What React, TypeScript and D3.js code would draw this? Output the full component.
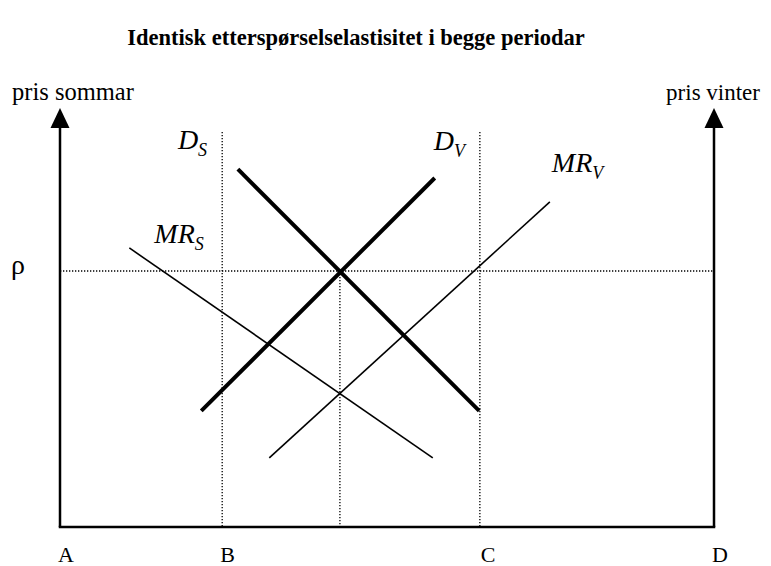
import React from "react";
import * as d3 from "d3";

// ---- data (quantity 0..100 on x, price 0..100 on y) ----
const title = "Identisk etterspørselselastisitet i begge periodar";
const leftAxisLabel = "pris sommar";
const rightAxisLabel = "pris vinter";
const priceLabel = "ρ";
const quantityTicks = ["A", "B", "C", "D"];
const quantityTickValues = [0, 24.8, 64.2, 100];
const midQuantity = 42.8;
const rho = 61.1;
const guideTop = 94.3;

const curveNames = ["DS", "DV", "MRS", "MRV"];
const curveMain = ["D", "D", "MR", "MR"];
const curveSub = ["S", "V", "S", "V"];
const curveThick = [true, true, false, false];
const curveX0 = [27.2, 21.6, 10.6, 32.0];
const curveY0 = [85.4, 27.7, 66.6, 16.5];
const curveX1 = [64.1, 57.3, 57.0, 74.9];
const curveY1 = [27.7, 83.3, 16.5, 77.6];

const W = 771;
const H = 566;
const FONT = "'Liberation Serif', 'Times New Roman', Times, serif";

export default function App() {
  const x = d3.scaleLinear().domain([0, 100]).range([60, 714]);
  const y = d3.scaleLinear().domain([0, 100]).range([527, 108]);
  const line = d3
    .line<[number, number]>()
    .x((d) => x(d[0]))
    .y((d) => y(d[1]));

  const x0 = x(0);
  const x1 = x(100);
  const yb = y(0);
  const yt = y(100);
  const arrowH = 20;
  const arrowW = 9.5;
  const arrow = (cx: number) =>
    `M${cx},${yt} L${cx - arrowW},${yt + arrowH} L${cx + arrowW},${yt + arrowH} Z`;

  const dotted = { stroke: "#000", strokeWidth: 1.3, strokeDasharray: "1.3,1.7" };

  // label offsets relative to curve anchors
  const labelAnchor = [
    { p: 0, dx: -60, dy: -20 },
    { p: 1, dx: -1, dy: -28 },
    { p: 0, dx: 25, dy: -5 },
    { p: 1, dx: 2, dy: -30 },
  ];

  return (
    <svg
      width={W}
      height={H}
      style={{ position: "absolute", left: 0, top: 0, background: "#fff" }}
      fontFamily={FONT}
    >
      <rect width={W} height={H} fill="#fff" />
      <text x={356} y={45} textAnchor="middle" fontWeight="bold" fontSize={22.5}>
        {title}
      </text>
      <text x={12} y={100} fontSize={24.5}>
        {leftAxisLabel}
      </text>
      <text x={760} y={100} fontSize={23}>
        <tspan textAnchor="end">{rightAxisLabel}</tspan>
      </text>
      <text x={11} y={y(rho) + 3} fontSize={28}>
        {priceLabel}
      </text>

      {/* guide lines */}
      <line x1={x0} x2={x1} y1={y(rho)} y2={y(rho)} {...dotted} />
      <line x1={x(quantityTickValues[1])} x2={x(quantityTickValues[1])} y1={y(guideTop)} y2={yb} {...dotted} />
      <line x1={x(quantityTickValues[2])} x2={x(quantityTickValues[2])} y1={y(guideTop)} y2={yb} {...dotted} />
      <line x1={x(midQuantity)} x2={x(midQuantity)} y1={y(rho)} y2={yb} {...dotted} />

      {/* axes */}
      <line x1={x0} x2={x0} y1={yb} y2={yt + arrowH - 1} stroke="#000" strokeWidth={2.5} />
      <line x1={x1} x2={x1} y1={yb} y2={yt + arrowH - 1} stroke="#000" strokeWidth={2.5} />
      <line x1={x0 - 1.25} x2={x1 + 1.25} y1={yb} y2={yb} stroke="#000" strokeWidth={2.5} />
      <path d={arrow(x0)} fill="#000" />
      <path d={arrow(x1)} fill="#000" />

      {quantityTicks.map((t, i) => (
        <text key={t} x={x(quantityTickValues[i]) + (i === 2 ? 1 : -2)} y={562} fontSize={22}>
          {t}
        </text>
      ))}

      {/* curves */}
      {curveNames.map((n, i) => (
        <path
          key={n}
          d={line([
            [curveX0[i], curveY0[i]],
            [curveX1[i], curveY1[i]],
          ]) || ""}
          stroke="#000"
          strokeWidth={curveThick[i] ? 4 : 1.6}
          fill="none"
        />
      ))}

      {curveNames.map((n, i) => {
        const a = labelAnchor[i];
        const px = a.p === 0 ? x(curveX0[i]) : x(curveX1[i]);
        const py = a.p === 0 ? y(curveY0[i]) : y(curveY1[i]);
        return (
          <text key={n + "l"} x={px + a.dx} y={py + a.dy} fontSize={28} fontStyle="italic">
            {curveMain[i]}
            <tspan fontSize={18} dy={7}>
              {curveSub[i]}
            </tspan>
          </text>
        );
      })}
    </svg>
  );
}
